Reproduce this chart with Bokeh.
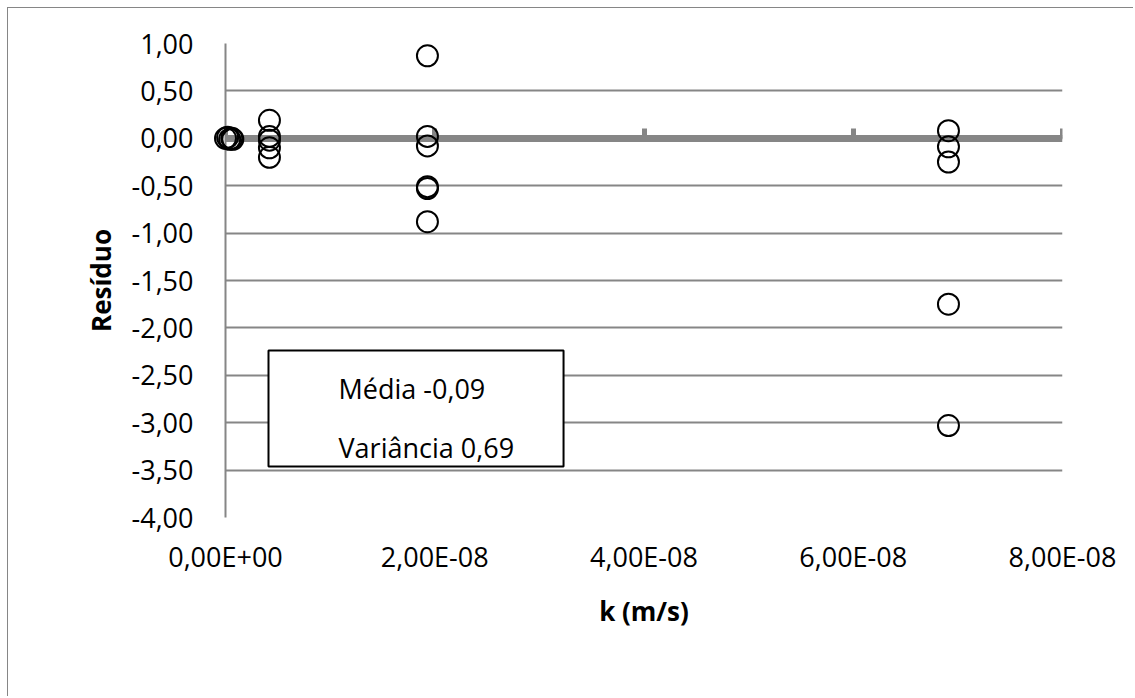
from bokeh.plotting import figure
from bokeh.models import (LinearAxis, FixedTicker, CustomJSTickFormatter, Range1d,
                          BoxAnnotation, Label, Grid)
from bokeh.embed import file_html
from bokeh.resources import INLINE

# ---------------- data ----------------
K_VALUES = [0.0, 2e-10, 4e-10, 6e-10, 7e-10,
            4.2e-9, 4.2e-9, 4.2e-9, 4.2e-9, 4.2e-9,
            1.93e-8, 1.93e-8, 1.93e-8, 1.93e-8, 1.93e-8, 1.93e-8,
            6.91e-8, 6.91e-8, 6.91e-8, 6.91e-8, 6.91e-8]
RESIDUOS = [0.00, 0.01, -0.01, 0.00, -0.01,
            0.19, 0.02, -0.02, -0.10, -0.20,
            0.87, 0.02, -0.08, -0.51, -0.53, -0.88,
            0.08, -0.09, -0.25, -1.75, -3.03]

X_TICKS = [0.0, 2e-8, 4e-8, 6e-8, 8e-8]
X_TICK_LABELS = ["0,00E+00", "2,00E-08", "4,00E-08", "6,00E-08", "8,00E-08"]
Y_TICKS = [1.0, 0.5, 0.0, -0.5, -1.0, -1.5, -2.0, -2.5, -3.0, -3.5, -4.0]
Y_TICK_LABELS = ["1,00", "0,50", "0,00", "-0,50", "-1,00", "-1,50", "-2,00",
                 "-2,50", "-3,00", "-3,50", "-4,00"]

X_TITLE = "k (m/s)"
Y_TITLE = "Resíduo"
STATS_LINES = ["Média -0,09", "Variância 0,69"]

FONT = "Open Sans"
GRAY = "#868686"

LOOKUP = """
let best = 0, bd = Infinity;
for (let i = 0; i < tick_vals.length; i++) {
  const d = Math.abs(tick_vals[i] - tick);
  if (d < bd) { bd = d; best = i; }
}
return tick_labels[best];
"""

p = figure(width=1126, height=689, output_backend="svg", toolbar_location=None,
           x_range=Range1d(0, 8e-8), y_range=Range1d(-4, 1),
           x_axis_type=None, y_axis_type=None,
           min_border_left=217, min_border_right=72,
           min_border_top=35, min_border_bottom=180)
p.outline_line_color = None
p.background_fill_color = "white"
p.border_fill_color = "white"
p.styles = {"margin-left": "7px", "margin-top": "7px",
            "border-left": "1px solid #868686", "border-top": "1px solid #868686"}

# horizontal gridlines
ygrid = Grid(dimension=1, ticker=FixedTicker(ticks=Y_TICKS),
             grid_line_color=GRAY, grid_line_width=2)
p.add_layout(ygrid)

# left axis
yaxis = LinearAxis(ticker=FixedTicker(ticks=Y_TICKS),
                   formatter=CustomJSTickFormatter(args=dict(tick_vals=Y_TICKS, tick_labels=Y_TICK_LABELS), code=LOOKUP),
                   axis_line_color=GRAY, axis_line_width=2,
                   major_tick_line_color=None, minor_tick_line_color=None,
                   major_tick_in=0, major_tick_out=0,
                   major_label_standoff=32,
                   major_label_text_font=FONT, major_label_text_font_size="27px",
                   major_label_text_color="black",
                   axis_label=Y_TITLE, axis_label_text_font=FONT,
                   axis_label_text_font_size="26px", axis_label_text_font_style="bold",
                   axis_label_text_color="black", axis_label_standoff=10)
p.add_layout(yaxis, "left")

# bottom axis (labels only)
xaxis = LinearAxis(ticker=FixedTicker(ticks=X_TICKS),
                   formatter=CustomJSTickFormatter(args=dict(tick_vals=X_TICKS, tick_labels=X_TICK_LABELS), code=LOOKUP),
                   axis_line_color=None,
                   major_tick_line_color=None, minor_tick_line_color=None,
                   major_tick_in=0, major_tick_out=0,
                   major_label_standoff=20,
                   major_label_text_font=FONT, major_label_text_font_size="27px",
                   major_label_text_color="black",
                   axis_label=X_TITLE, axis_label_text_font=FONT,
                   axis_label_text_font_size="26px", axis_label_text_font_style="bold",
                   axis_label_text_color="black", axis_label_standoff=15)
p.add_layout(xaxis, "below")

# thick axis line crossing at zero
zaxis = LinearAxis(fixed_location=0, ticker=FixedTicker(ticks=X_TICKS),
                   axis_line_color=GRAY, axis_line_width=7,
                   major_tick_in=10, major_tick_out=0,
                   major_tick_line_color=GRAY, major_tick_line_width=5,
                   minor_tick_line_color=None,
                   major_label_text_color=None, major_label_text_font_size="0px")
p.add_layout(zaxis, "below")

# statistics box
box = BoxAnnotation(left=0.411e-8, right=3.231e-8, top=-2.238, bottom=-3.462,
                    fill_color="white", fill_alpha=1.0,
                    line_color="black", line_alpha=1.0, line_width=2)
p.add_layout(box)
for txt, yy in zip(STATS_LINES, [-2.639, -3.262]):
    p.add_layout(Label(x=1.08e-8, y=yy, text=txt, text_font=FONT,
                       text_font_size="27px", text_color="black",
                       text_align="left", text_baseline="alphabetic"))

r = p.scatter(K_VALUES, RESIDUOS, marker="circle", size=21,
              fill_color=None, line_color="black", line_width=2)
r.level = "overlay"

open("out.html", "w").write(file_html(p, INLINE))
